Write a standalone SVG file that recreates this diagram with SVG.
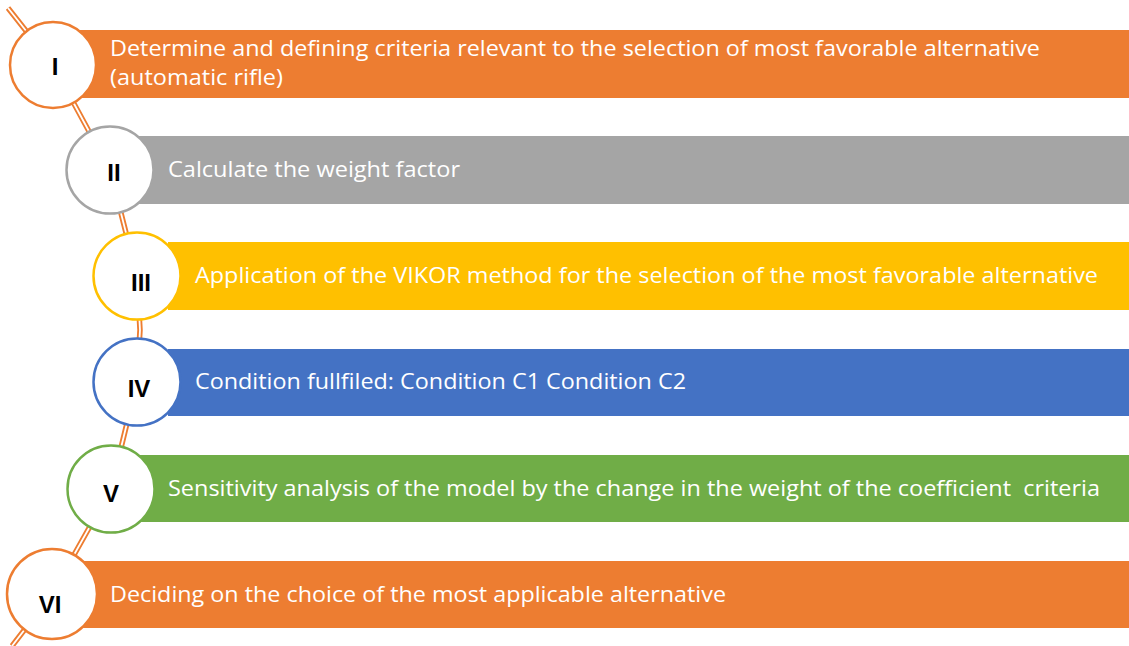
<svg xmlns="http://www.w3.org/2000/svg" width="1129" height="646" viewBox="0 0 1129 646">
<style>
.lbl{font-family:"Open Sans","Noto Sans",sans-serif;font-size:21px;fill:#ffffff}
.num{font-family:"Liberation Sans",Arial,sans-serif;font-size:24px;font-weight:bold;fill:#000000;text-anchor:middle}
.c{fill:#ffffff;stroke-width:2.5}
</style>
<rect width="1129" height="646" fill="#ffffff"/>
<g id="connectors">
<polyline points="8,8 53,65 110,170 137,276 140,330 137,382 111,489 52,594 12,646" fill="none" stroke="#ED7D31" stroke-width="5.5" stroke-linejoin="round"/>
<polyline points="8,8 53,65 110,170 137,276 140,330 137,382 111,489 52,594 12,646" fill="none" stroke="#ffffff" stroke-width="1.8" stroke-linejoin="round"/>
</g>
<g id="step1">
<rect x="78" y="30" width="1051" height="68" fill="#ED7D31"/>
<circle class="c" cx="53" cy="65" r="43" stroke="#ED7D31"/>
<text class="num" x="55" y="75">I</text>
<text class="lbl" x="110" y="56" textLength="930" lengthAdjust="spacingAndGlyphs">Determine and defining criteria relevant to the selection of most favorable alternative</text>
<text class="lbl" x="110" y="85" textLength="173" lengthAdjust="spacingAndGlyphs">(automatic rifle)</text>
</g>
<g id="step2">
<rect x="138" y="136" width="991" height="68" fill="#A5A5A5"/>
<circle class="c" cx="110" cy="170" r="43.5" stroke="#A5A5A5"/>
<text class="num" x="114" y="181">II</text>
<text class="lbl" x="168" y="177" textLength="292" lengthAdjust="spacingAndGlyphs">Calculate the weight factor</text>
</g>
<g id="step3">
<rect x="168" y="242" width="961" height="68" fill="#FFC000"/>
<circle class="c" cx="137" cy="276" r="43.5" stroke="#FFC000"/>
<text class="num" x="141" y="291">III</text>
<text class="lbl" x="195" y="283" textLength="903" lengthAdjust="spacingAndGlyphs">Application of the VIKOR method for the selection of the most favorable alternative</text>
</g>
<g id="step4">
<rect x="168" y="349" width="961" height="67" fill="#4472C4"/>
<circle class="c" cx="137" cy="382" r="43.5" stroke="#4472C4"/>
<text class="num" x="139" y="397">IV</text>
<text class="lbl" x="195" y="389" textLength="491" lengthAdjust="spacingAndGlyphs">Condition fullfiled: Condition C1 Condition C2</text>
</g>
<g id="step5">
<rect x="138" y="455" width="991" height="67" fill="#70AD47"/>
<circle class="c" cx="111" cy="489" r="43.5" stroke="#70AD47"/>
<text class="num" x="111" y="502">V</text>
<text class="lbl" x="168" y="496" textLength="932" lengthAdjust="spacingAndGlyphs" xml:space="preserve">Sensitivity analysis of the model by the change in the weight of the coefficient  criteria</text>
</g>
<g id="step6">
<rect x="78" y="561" width="1051" height="67" fill="#ED7D31"/>
<circle class="c" cx="52" cy="594" r="45" stroke="#ED7D31"/>
<text class="num" x="50" y="613">VI</text>
<text class="lbl" x="110" y="602" textLength="616" lengthAdjust="spacingAndGlyphs">Deciding on the choice of the most applicable alternative</text>
</g>
</svg>
